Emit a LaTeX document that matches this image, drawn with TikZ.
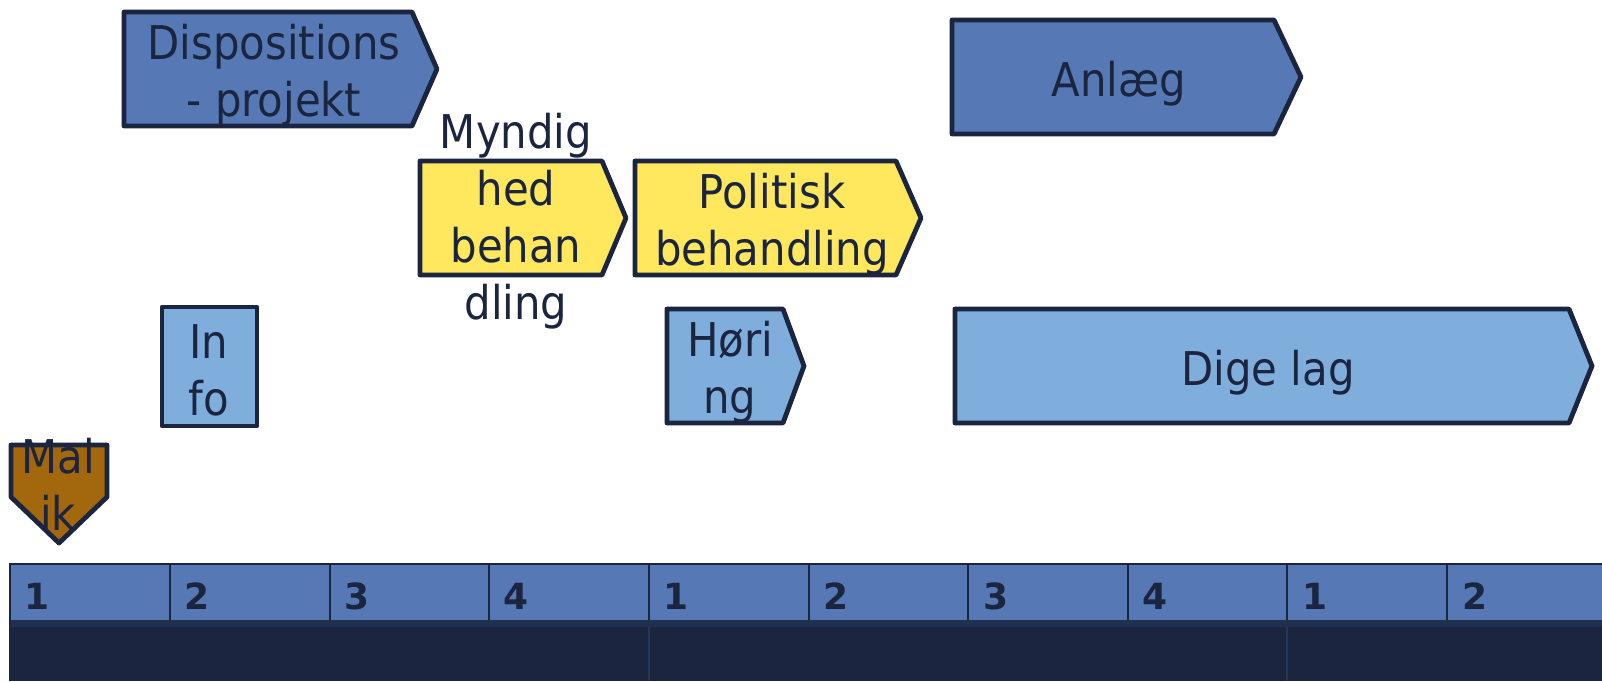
\documentclass[tikz,border=0pt]{standalone}
\usepackage{fontspec}
\setmainfont{DejaVu Sans Condensed}
\newfontfamily\numfont{DejaVu Sans}
\definecolor{navy}{HTML}{1B2540}
\definecolor{midblue}{HTML}{5679B5}
\definecolor{lightblue}{HTML}{7FAEDD}
\definecolor{yell}{HTML}{FFE75E}
\definecolor{brown}{HTML}{A3670E}
\definecolor{strip}{HTML}{22304F}
\definecolor{darkdiv}{HTML}{26365A}
\newcommand\mystrutA{\rule{0pt}{38pt}}
\begin{document}
\begin{tikzpicture}[x=1pt,y=-1pt,
  shp/.style={draw=navy, line width=4.8pt, line join=round},
  lbl/.style={text=navy, font=\fontsize{46.5}{57}\selectfont, align=center, inner sep=0pt, anchor=north},
  num/.style={text=navy, font=\numfont\fontsize{36}{36}\selectfont\bfseries, inner sep=0pt, anchor=base west}]
\useasboundingbox (0,0) rectangle (1602,681);
% timeline bar
\fill[navy] (9,620) rectangle (1602,681);
\fill[strip] (9,620) rectangle (1602,627);
\fill[midblue] (9,563) rectangle (1602,620);
\draw[navy, line width=1.5pt] (9,563.75) -- (1602,563.75);
\draw[navy, line width=1.5pt] (9.75,563) -- (9.75,681);
\foreach \x in {170,329.5,489,649,808.5,968,1128,1287,1447}
  \draw[navy, line width=2pt] (\x,563) -- (\x,620);
\foreach \x in {649,1287}
  \draw[darkdiv, line width=1.5pt] (\x,627) -- (\x,681);
\foreach \n/\t [count=\i from 0] in {1/1,2/2,3/3,4/4,5/1,6/2,7/3,8/4,9/1,10/2}
  \node[num] (n\n) at ({9.5+\i*159.75+15},609) {\t};
% shapes
\path[shp, fill=midblue] (124,12) -- (412,12) -- (437,69) -- (412,126) -- (124,126) -- cycle;
\path[shp, fill=midblue] (952,20) -- (1274,20) -- (1301,77) -- (1274,134) -- (952,134) -- cycle;
\path[shp, fill=yell] (420,161) -- (602,161) -- (626,218) -- (602,275) -- (420,275) -- cycle;
\path[shp, fill=yell] (635,161) -- (896,161) -- (921,218) -- (896,275) -- (635,275) -- cycle;
\path[shp, fill=lightblue] (162,307) rectangle (257,426);
\path[shp, fill=lightblue] (667,309) -- (783,309) -- (804,366) -- (783,423) -- (667,423) -- cycle;
\path[shp, fill=lightblue] (955,309) -- (1569,309) -- (1592,366) -- (1569,423) -- (955,423) -- cycle;
\path[shp, fill=brown] (11,445) -- (107,445) -- (107,497) -- (59,543) -- (11,497) -- cycle;
% labels
\node[lbl] (disp) at (274,21) {\mystrutA Dispositions\\- projekt};
\node[lbl] (anl) at (1119,58) {\mystrutA Anlæg};
\node[lbl] (mynd) at (516,110) {\mystrutA Myndig\\hed\\behan\\dling};
\node[lbl] (pol) at (772,170) {\mystrutA Politisk\\behandling};
\node[lbl] (info) at (209,320) {\mystrutA In\\fo};
\node[lbl] (hor) at (730,318) {\mystrutA Høri\\ng};
\node[lbl] (dige) at (1268,347) {\mystrutA Dige lag};
\node[lbl] (malik) at (58,435) {\mystrutA Mal\\ik};
\end{tikzpicture}
\end{document}
